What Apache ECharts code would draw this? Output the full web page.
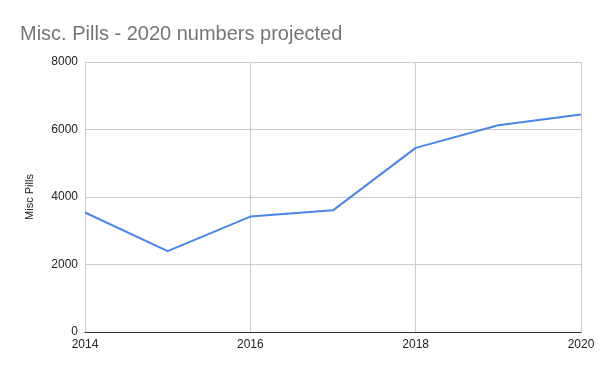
<!DOCTYPE html>
<html><head><meta charset="utf-8">
<script src="https://cdn.jsdelivr.net/npm/echarts@6/dist/echarts.min.js"></script>
<style>html,body{margin:0;padding:0;background:#fff}#c{width:600px;height:371px}</style>
</head><body><div id="c"></div>
<script>
const years = [2014, 2015, 2016, 2017, 2018, 2019, 2020];
const pills = [3540, 2395, 3420, 3605, 5455, 6125, 6445];
const yTicks = [0, 2000, 4000, 6000, 8000];
const xTicks = [2014, 2016, 2018, 2020];

const chart = echarts.init(document.getElementById('c'), null, {renderer: 'canvas'});
chart.setOption({
  animation: false,
  backgroundColor: '#fff',
  title: {
    text: 'Misc. Pills - 2020 numbers projected',
    left: 15, top: 19,
    textStyle: {fontFamily: 'Liberation Sans, Arial', fontSize: 20, fontWeight: 'normal', color: '#757575'}
  },
  grid: {left: 85, right: 19, top: 62, bottom: 39, containLabel: false},
  xAxis: {
    type: 'value', min: xTicks[0], max: xTicks[xTicks.length - 1], interval: 2,
    axisLine: {show: true, onZero: false, lineStyle: {color: '#333', width: 1}},
    axisTick: {show: false},
    axisLabel: {fontFamily: 'Liberation Sans, Arial', fontSize: 12, color: '#222', margin: 7,
      formatter: v => String(v)},
    splitLine: {show: true, lineStyle: {color: '#ccc', width: 1}}
  },
  yAxis: {
    type: 'value', min: yTicks[0], max: yTicks[yTicks.length - 1], interval: 2000,
    name: 'Misc Pills', nameLocation: 'middle', nameGap: 50, nameRotate: 90,
    nameTextStyle: {fontFamily: 'Liberation Sans, Arial', fontSize: 11, color: '#222'},
    axisLine: {show: false},
    axisTick: {show: false},
    axisLabel: {fontFamily: 'Liberation Sans, Arial', fontSize: 12, color: '#222', margin: 7,
      formatter: v => String(v)},
    splitLine: {show: true, lineStyle: {color: '#ccc', width: 1}}
  },
  series: [{
    type: 'line',
    data: years.map((y, i) => [y, pills[i]]),
    showSymbol: false,
    lineStyle: {color: '#4a86e8', width: 2},
    itemStyle: {color: '#4a86e8'}
  }]
});
</script></body></html>
